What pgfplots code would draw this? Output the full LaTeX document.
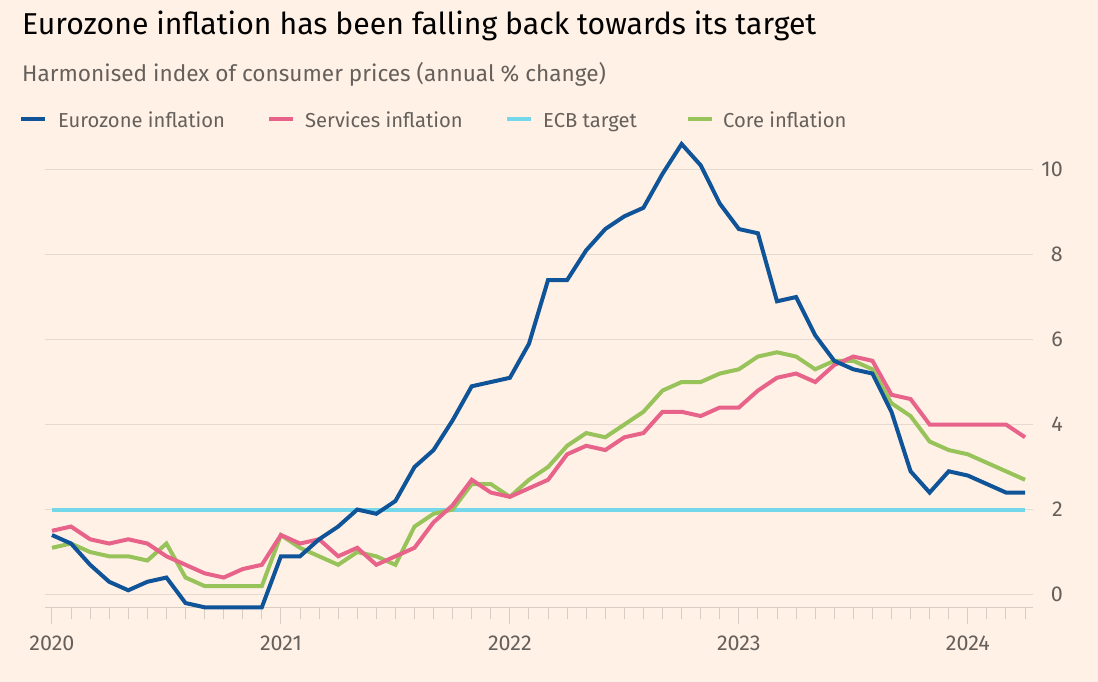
\documentclass[border=0pt]{standalone}
\usepackage{fontspec}
\setmainfont{Fira Sans}
\usepackage{pgfplots}
\pgfplotsset{compat=1.18}
\usepackage{pgfplotstable}
\definecolor{bg}{HTML}{FFF1E5}
\definecolor{ftblue}{HTML}{0F5499}
\definecolor{ftpink}{HTML}{E8638A}
\definecolor{ftcyan}{HTML}{74D8EA}
\definecolor{ftgreen}{HTML}{97C35A}
\definecolor{gridc}{HTML}{E6DAD0}
\definecolor{axisc}{HTML}{D8CDC4}
\definecolor{txtgray}{HTML}{66605C}

% month index: 0 = Jan 2020
\pgfplotstableread{
m hicp serv core
0 1.4 1.5 1.1
1 1.2 1.6 1.2
2 0.7 1.3 1.0
3 0.3 1.2 0.9
4 0.1 1.3 0.9
5 0.3 1.2 0.8
6 0.4 0.9 1.2
7 -0.2 0.7 0.4
8 -0.3 0.5 0.2
9 -0.3 0.4 0.2
10 -0.3 0.6 0.2
11 -0.3 0.7 0.2
12 0.9 1.4 1.4
13 0.9 1.2 1.1
14 1.3 1.3 0.9
15 1.6 0.9 0.7
16 2.0 1.1 1.0
17 1.9 0.7 0.9
18 2.2 0.9 0.7
19 3.0 1.1 1.6
20 3.4 1.7 1.9
21 4.1 2.1 2.0
22 4.9 2.7 2.6
23 5.0 2.4 2.6
24 5.1 2.3 2.3
25 5.9 2.5 2.7
26 7.4 2.7 3.0
27 7.4 3.3 3.5
28 8.1 3.5 3.8
29 8.6 3.4 3.7
30 8.9 3.7 4.0
31 9.1 3.8 4.3
32 9.9 4.3 4.8
33 10.6 4.3 5.0
34 10.1 4.2 5.0
35 9.2 4.4 5.2
36 8.6 4.4 5.3
37 8.5 4.8 5.6
38 6.9 5.1 5.7
39 7.0 5.2 5.6
40 6.1 5.0 5.3
41 5.5 5.4 5.5
42 5.3 5.6 5.5
43 5.2 5.5 5.3
44 4.3 4.7 4.5
45 2.9 4.6 4.2
46 2.4 4.0 3.6
47 2.9 4.0 3.4
48 2.8 4.0 3.3
49 2.6 4.0 3.1
50 2.4 4.0 2.9
51 2.4 3.7 2.7
}\infl

\begin{document}
\begin{tikzpicture}
\fill[bg] (0,0) rectangle (1098pt,682pt);
\path[use as bounding box] (0,0) rectangle (1098pt,682pt);

% titles
\node[anchor=base west, inner sep=0pt, text=black] at (22pt,647pt)
  {\fontsize{30.2}{35}\selectfont Eurozone inflation has been falling back towards its target};
\node[anchor=base west, inner sep=0pt, text=txtgray] at (22pt,600.3pt)
  {\fontsize{22.6}{27}\selectfont Harmonised index of consumer prices (annual \% change)};

% legend
\begin{scope}[line width=4.5pt]
\draw[ftblue] (21pt,563pt) -- (45pt,563pt);
\draw[ftpink] (269pt,563pt) -- (293pt,563pt);
\draw[ftcyan] (507pt,563pt) -- (531pt,563pt);
\draw[ftgreen] (688pt,563pt) -- (712pt,563pt);
\end{scope}
\begin{scope}[every node/.style={anchor=base west, inner sep=0pt, text=txtgray, font=\fontsize{20.2}{24}\selectfont}]
\node at (58pt,554.3pt) {Eurozone inflation};
\node at (305pt,554.3pt) {Services inflation};
\node at (543pt,554.3pt) {ECB target};
\node at (723pt,554.3pt) {Core inflation};
\end{scope}

\begin{axis}[
  at={(44.9pt,74.7pt)}, anchor=south west,
  scale only axis,
  x=19.08pt, y=42.5pt,
  xmin=-0.37, xmax=51.4,
  ymin=-0.3, ymax=10.9,
  axis x line*=bottom, axis y line*=right,
  y axis line style={draw=none},
  x axis line style={draw=axisc, line width=1pt},
  ytick={0,2,4,6,8,10},
  ymajorgrids,
  major grid style={draw=gridc, line width=1pt},
  ytick style={draw=none},
  yticklabel style={anchor=east, inner sep=0pt, xshift=13.3pt, text=txtgray, font=\fontsize{21.5}{25}\selectfont},
  xtick={0,12,24,36,48},
  xticklabels={2020,2021,2022,2023,2024},
  minor xtick={0,1,...,51},
  tick align=outside,
  major tick length=17pt,
  minor tick length=12pt,
  xtick style={draw=axisc, line width=1pt},
  minor tick style={draw=axisc, line width=1pt},
  xticklabel style={anchor=base, inner sep=0pt, text=txtgray, font=\fontsize{21.5}{25}\selectfont, yshift=-26pt},
  /pgf/number format/assume math mode=true,
  clip=false,
]
\addplot[ftcyan, line width=4pt] coordinates {(0,2) (51,2)};
\addplot[ftgreen, line width=4pt] table[x=m, y=core] {\infl};
\addplot[ftpink, line width=4pt] table[x=m, y=serv] {\infl};
\addplot[ftblue, line width=4pt] table[x=m, y=hicp] {\infl};
\end{axis}
\end{tikzpicture}
\end{document}
